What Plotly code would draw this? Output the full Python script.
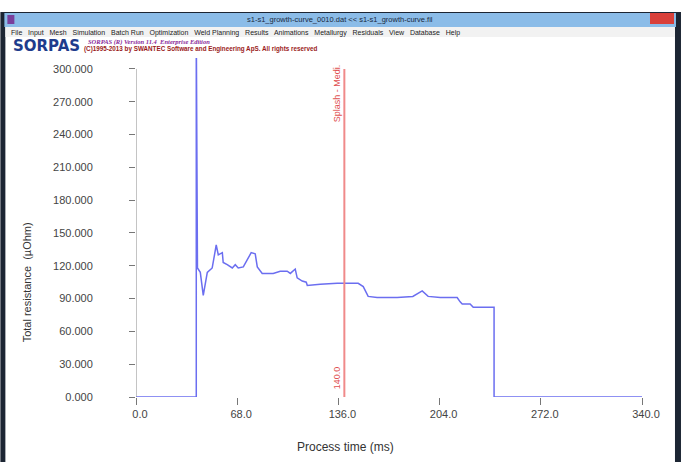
import plotly.graph_objects as go

# ---- data ----
time_ms = [0.0, 40.5, 40.5, 41.3, 43.2, 45.2, 47.9, 51.2, 53.9, 55.3, 58.0, 58.6,
           61.3, 64.7, 66.7, 68.7, 72.1, 74.7, 77.4, 80.1, 81.5, 84.8, 88.2,
           92.2, 96.9, 101.6, 103.7, 107.0, 108.3, 111.7, 114.4, 115.1, 123.8,
           135.2, 149.3, 152.7, 156.0, 162.0, 175.5, 186.0, 192.3, 196.3,
           204.4, 215.8, 217.8, 219.2, 224.5, 226.6, 239.3, 240.6, 240.6, 340.0]
resistance = [0.0, 0.0, 340.0, 118.0, 114.0, 93.0, 114.0, 118.0, 139.0, 130.0,
              132.0, 123.0, 121.0, 118.0, 121.0, 118.0, 119.0, 125.0, 132.0,
              131.0, 119.0, 113.0, 113.0, 113.0, 115.0, 115.0, 113.0, 117.0,
              109.0, 106.0, 105.0, 102.0, 103.0, 104.0, 104.0, 101.0, 92.0,
              91.0, 91.0, 92.0, 97.0, 92.0, 91.0, 91.0, 87.0, 85.0, 85.0, 82.0,
              82.0, 82.0, 0.0, 0.0]
x_ticks = [0, 68, 136, 204, 272, 340]
x_tick_text = ["0.0", "68.0", "136.0", "204.0", "272.0", "340.0"]
y_ticks = [0, 30, 60, 90, 120, 150, 180, 210, 240, 270, 300]
y_tick_text = ["0.000", "30.000", "60.000", "90.000", "120.000", "150.000",
               "180.000", "210.000", "240.000", "270.000", "300.000"]
marker_time = 140.0
marker_label = "Splash - Medi."
marker_value_text = "140.0"

W, H = 681, 462
L, R, T, B = 135.7, 39, 58, 65
PW, PH = W - L - R, H - T - B

def px(x):
    return (x - L) / PW

def py(y):
    return (H - B - y) / PH

FONT = "Liberation Sans, Arial, sans-serif"

fig = go.Figure()
fig.add_trace(go.Scatter(x=time_ms, y=resistance, mode="lines",
                         line=dict(color="#6b6ef0", width=1.5),
                         hoverinfo="skip", showlegend=False, cliponaxis=True))

shapes = []
# window chrome
shapes.append(dict(type="rect", xref="paper", yref="paper", x0=px(0), x1=px(W),
                   y0=py(12), y1=py(H), fillcolor="#1c2533", line_width=0, layer="below"))
shapes.append(dict(type="rect", xref="paper", yref="paper", x0=px(5), x1=px(675),
                   y0=py(27), y1=py(H), fillcolor="white", line_width=0, layer="below"))
shapes.append(dict(type="rect", xref="paper", yref="paper", x0=px(4), x1=px(676),
                   y0=py(13), y1=py(27), fillcolor="#8bbce8", line_width=0, layer="below"))
shapes.append(dict(type="rect", xref="paper", yref="paper", x0=px(5), x1=px(675),
                   y0=py(27), y1=py(37), fillcolor="#f2f2f2", line_width=0, layer="below"))
shapes.append(dict(type="rect", xref="paper", yref="paper", x0=px(650), x1=px(674),
                   y0=py(13), y1=py(24), fillcolor="#d9403a", line_width=0, layer="below"))
shapes.append(dict(type="rect", xref="paper", yref="paper", x0=px(7), x1=px(14),
                   y0=py(15), y1=py(24), fillcolor="#7a3f9c", line_width=0, layer="below"))
# y axis line (0..300)
shapes.append(dict(type="line", xref="x", yref="y", x0=0, x1=0, y0=0, y1=300,
                   line=dict(color="#8a8a8a", width=1)))
# marker line
shapes.append(dict(type="line", xref="x", yref="y", x0=marker_time, x1=marker_time,
                   y0=0, y1=300, line=dict(color="#f08a8a", width=2)))

ann = []
ann.append(dict(text="s1-s1_growth-curve_0010.dat << s1-s1_growth-curve.fil",
                xref="paper", yref="paper", x=px(340), y=py(19.5), xanchor="center",
                yanchor="middle", showarrow=False,
                font=dict(family=FONT, size=7.5, color="#1a2a40")))
ann.append(dict(text="File   Input   Mesh   Simulation   Batch Run   Optimization   Weld Planning   Results   Animations   Metallurgy   Residuals   View   Database   Help",
                xref="paper", yref="paper", x=px(9), y=py(32.5), xanchor="left",
                yanchor="middle", showarrow=False,
                font=dict(family=FONT, size=7, color="#222")))
ann.append(dict(text="<b>SORPAS</b>", xref="paper", yref="paper", x=px(11), y=py(46),
                xanchor="left", yanchor="middle", showarrow=False,
                font=dict(family="DejaVu Sans, sans-serif", size=15, color="#1e3c8c")))
ann.append(dict(text="<i><b>SORPAS (R) Version 11.4  Enterprise Edition</b></i>",
                xref="paper", yref="paper", x=px(86), y=py(42), xanchor="left",
                yanchor="middle", showarrow=False,
                font=dict(family="Liberation Serif, serif", size=6.5, color="#8a2a9a")))
ann.append(dict(text="<b>(C)1995-2013 by SWANTEC Software and Engineering ApS. All rights reserved</b>",
                xref="paper", yref="paper", x=px(82), y=py(49.5), xanchor="left",
                yanchor="middle", showarrow=False,
                font=dict(family=FONT, size=6.3, color="#9a1a1a")))
ann.append(dict(text="Total resistance  (µOhm)", xref="paper", yref="paper",
                x=px(27), y=py(282), xanchor="center", yanchor="middle",
                textangle=-90, showarrow=False,
                font=dict(family=FONT, size=11, color="#333")))
ann.append(dict(text="Process time (ms)", xref="paper", yref="paper",
                x=px(345), y=py(447), xanchor="center", yanchor="middle", showarrow=False,
                font=dict(family=FONT, size=12, color="#333")))
ann.append(dict(text=marker_label, xref="x", yref="paper", x=marker_time, xshift=-7,
                y=py(93), xanchor="center", yanchor="middle", textangle=-90, showarrow=False,
                font=dict(family=FONT, size=9, color="#e05050")))
ann.append(dict(text=marker_value_text, xref="x", yref="paper", x=marker_time, xshift=-7,
                y=py(378), xanchor="center", yanchor="middle", textangle=-90, showarrow=False,
                font=dict(family=FONT, size=9, color="#e05050")))

fig.update_layout(
    width=W, height=H,
    margin=dict(l=L, r=R, t=T, b=B, pad=0),
    paper_bgcolor="white", plot_bgcolor="white",
    shapes=shapes, annotations=ann, showlegend=False,
    xaxis=dict(range=[0, 340], tickvals=x_ticks, ticktext=x_tick_text,
               ticks="outside", ticklen=7, tickcolor="#777", showline=False,
               showgrid=False, zeroline=False, ticklabelshift=4,
               tickfont=dict(family=FONT, size=11, color="#444")),
    yaxis=dict(range=[0, 310], tickvals=y_ticks, ticktext=y_tick_text,
               ticks="outside", ticklen=6, tickcolor="#777", showline=False,
               showgrid=False, zeroline=False, ticklabelstandoff=34,
               tickfont=dict(family=FONT, size=11, color="#444")),
)

fig.write_html("out.html", config={"displayModeBar": False},
               post_script="document.body.style.margin='0';")
